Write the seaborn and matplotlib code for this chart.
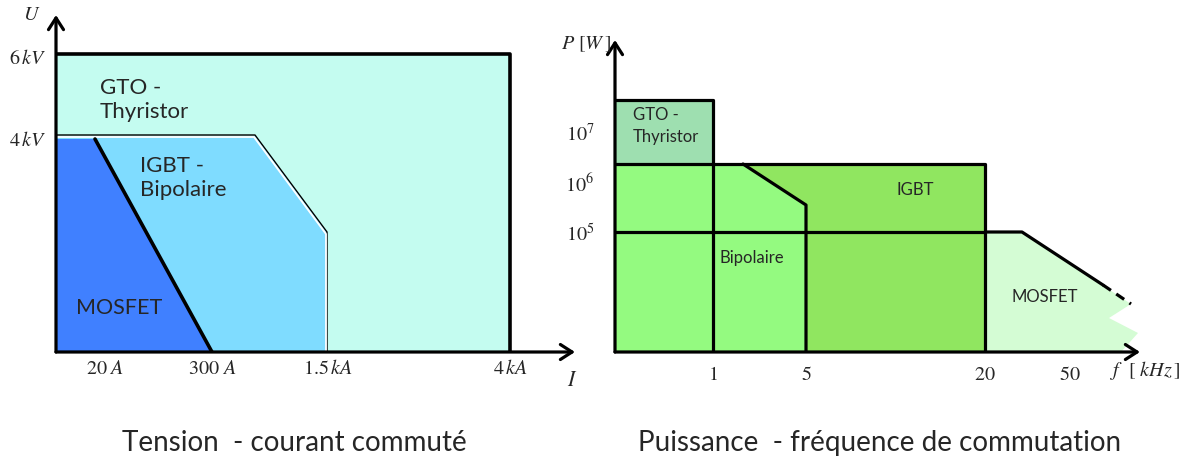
import matplotlib
matplotlib.use("Agg")
import matplotlib.pyplot as plt
import seaborn as sns

# --- Left panel: voltage vs switched current (schematic axis units) ---
CURRENT_LABELS = [r"$20\ A$", r"$300\ A$", r"$1.5\,kA$", r"$4\,kA$"]
CURRENT_POS = [49, 156, 272, 454]
VOLTAGE_LABELS = [r"$4\,kV$", r"$6\,kV$"]
VOLTAGE_POS = [215, 298]

GTO_LEFT_X = [0, 454, 454, 0]
GTO_LEFT_Y = [298, 298, 0, 0]
IGBT_LEFT_X = [0, 199, 271, 271, 0]
IGBT_LEFT_Y = [216, 216, 119, 0, 0]
MOSFET_LEFT_X = [0, 39, 156, 0]
MOSFET_LEFT_Y = [213, 213, 0, 0]

# --- Right panel: power vs switching frequency (schematic axis units) ---
FREQ_LABELS = ["$1$", "$5$", "$20$", "$50$"]
FREQ_POS = [98, 191, 370, 455]
POWER_LABELS = [r"$10^5$", r"$10^6$", r"$10^7$"]
POWER_POS = [119, 169, 219]

GTO_RIGHT_X = [0, 98, 98, 0]
GTO_RIGHT_Y = [252, 252, 188, 188]
BIPOL_X = [0, 128, 191, 191, 0]
BIPOL_Y = [188, 188, 147, 0, 0]
IGBT_RIGHT_X = [128, 370, 370, 191, 191]
IGBT_RIGHT_Y = [188, 188, 0, 0, 147]
MOSFET_RIGHT_X = [370, 407, 516, 494, 523, 506, 370]
MOSFET_RIGHT_Y = [120, 120, 48, 34, 19, 0, 0]
MOSFET_SOLID_X = [370, 407, 488]
MOSFET_SOLID_Y = [120, 120, 67]
MOSFET_DASH_X = [488, 516]
MOSFET_DASH_Y = [67, 48]

sns.set_theme(style="white")
plt.rcParams["font.family"] = ["Lato", "DejaVu Sans"]
plt.rcParams["mathtext.fontset"] = "stix"

W, H = 1190, 466
fig = plt.figure(figsize=(W / 100, H / 100), dpi=100)

LW = 2.3
SERIF = 14.5


def line(ax, xs, ys, lw=LW, color="black", **kw):
    sns.lineplot(x=xs, y=ys, sort=False, estimator=None, color=color,
                 linewidth=lw, ax=ax, legend=False, **kw)


def arrows(ax, xmax, ymax):
    for end in [(xmax, 0), (0, ymax)]:
        ax.annotate("", xy=end, xytext=(0, 0),
                    arrowprops=dict(arrowstyle="->,head_length=0.7,head_width=0.45",
                                    lw=LW, color="black", shrinkA=0, shrinkB=0))


# left axes: origin at pixel (56, 352)
axl = fig.add_axes([56 / W, 114 / H, 534 / W, 342 / H])
axl.set_xlim(0, 534)
axl.set_ylim(0, 342)
axl.axis("off")

axl.fill(GTO_LEFT_X, GTO_LEFT_Y, color="#C4FCF0", lw=0)
line(axl, [0, 454, 454], [298, 298, 0], lw=2.6)
axl.fill(IGBT_LEFT_X, IGBT_LEFT_Y, color="#7FDCFF", lw=0)
line(axl, IGBT_LEFT_X[:4], [v + 1 for v in IGBT_LEFT_Y[:3]] + [0], lw=1.0)
line(axl, [x - 1 for x in IGBT_LEFT_X[:4]], [v - 1 for v in IGBT_LEFT_Y[:3]] + [0],
     lw=1.3, color="white")
axl.fill(MOSFET_LEFT_X, MOSFET_LEFT_Y, color="#4080FF", lw=0)
line(axl, MOSFET_LEFT_X[1:3], MOSFET_LEFT_Y[1:3], lw=2.6)
arrows(axl, 519, 337)

for pos, lab in zip(CURRENT_POS, CURRENT_LABELS):
    axl.text(pos, -16, lab, ha="center", va="center", fontsize=SERIF)
for pos, lab in zip(VOLTAGE_POS, VOLTAGE_LABELS):
    axl.text(-10, pos - 3, lab, ha="right", va="center", fontsize=SERIF)
axl.text(-24, 338, r"$U$", ha="center", va="center", fontsize=SERIF)
axl.text(516, -28, r"$I$", ha="center", va="center", fontsize=SERIF + 1)

axl.text(44, 252, "GTO -\nThyristor", ha="left", va="center", fontsize=16,
         linespacing=1.3)
axl.text(84, 174, "IGBT -\nBipolaire", ha="left", va="center", fontsize=16,
         linespacing=1.3)
axl.text(20, 44, "MOSFET", ha="left", va="center", fontsize=15.5)

# right axes: origin at pixel (615, 352)
axr = fig.add_axes([615 / W, 114 / H, 575 / W, 342 / H])
axr.set_xlim(0, 575)
axr.set_ylim(0, 342)
axr.axis("off")

axr.fill(GTO_RIGHT_X, GTO_RIGHT_Y, color="#9EDFB0", lw=0)
axr.fill(BIPOL_X, BIPOL_Y, color="#94FA80", lw=0)
axr.fill(IGBT_RIGHT_X, IGBT_RIGHT_Y, color="#90E660", lw=0)
axr.fill(MOSFET_RIGHT_X, MOSFET_RIGHT_Y, color="#D4FCD4", lw=0)

line(axr, [0, 98, 98], [252, 252, 0])
line(axr, [0, 370, 370], [188, 188, 0])
line(axr, [0, 370], [120, 120])
line(axr, [128, 191, 191], [188, 147, 0])
line(axr, MOSFET_SOLID_X, MOSFET_SOLID_Y)
line(axr, MOSFET_DASH_X, MOSFET_DASH_Y, linestyle=(0, (3, 2)))
arrows(axr, 525, 312)

for pos, lab in zip(FREQ_POS, FREQ_LABELS):
    axr.text(pos, -22, lab, ha="center", va="center", fontsize=SERIF)
for pos, lab in zip(POWER_POS, POWER_LABELS):
    axr.text(-35, pos, lab, ha="center", va="center", fontsize=SERIF)
axr.text(-4, 308, r"$P\ [W\,]$", ha="right", va="center", fontsize=SERIF)
axr.text(495, -19, r"$f\ \ [\ kHz\,]$", ha="left", va="center", fontsize=SERIF)

axr.text(18, 226, "GTO -\nThyristor", ha="left", va="center", fontsize=12,
         linespacing=1.4)
axr.text(300, 162, "IGBT", ha="center", va="center", fontsize=12)
axr.text(137, 94, "Bipolaire", ha="center", va="center", fontsize=12)
axr.text(430, 55, "MOSFET", ha="center", va="center", fontsize=12)

fig.text(294 / W, 1 - 443 / H, "Tension  - courant commuté", ha="center",
         va="center", fontsize=20)
fig.text(880 / W, 1 - 443 / H, "Puissance  - fréquence de commutation",
         ha="center", va="center", fontsize=20)

fig.savefig("out.png", dpi=100)
